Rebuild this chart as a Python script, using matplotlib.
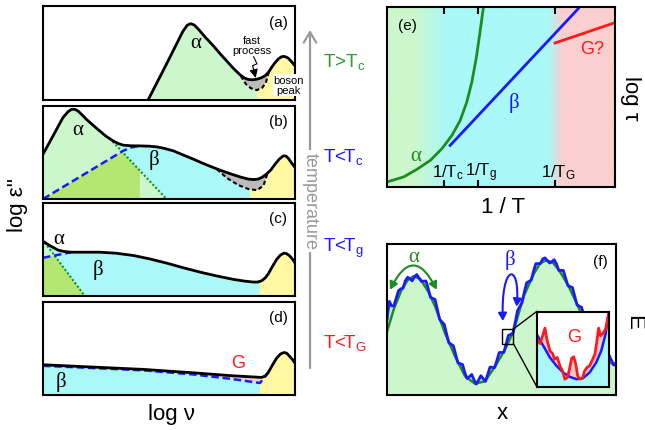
import numpy as np
import matplotlib
matplotlib.use("Agg")
import matplotlib.pyplot as plt
from matplotlib.patches import Polygon, Rectangle, FancyArrowPatch
from matplotlib.path import Path
from matplotlib.colors import to_rgb

plt.rcParams['font.family'] = ['Liberation Sans', 'DejaVu Sans']
plt.rcParams['mathtext.fontset'] = 'custom'
plt.rcParams['mathtext.rm'] = 'Liberation Sans'
plt.rcParams['mathtext.it'] = 'Liberation Sans:italic'

W, H = 645, 431

# ---------------- data (panel units 0..100) ----------------
# (a) T > Tc
a_x = [41.7, 49.0, 55.5, 57.2, 58.6, 60.0, 61.6, 64.5, 67.5, 70.2, 72.8, 75.5, 78.1, 80.0, 81.5,
       83.2, 84.8, 86.5, 88.1, 89.5, 90.7, 92.0, 93.4, 94.5, 95.4, 96.4, 97.4, 98.7, 100]
a_y = [0, 38.2, 73.0, 79.5, 81.2, 79.8, 75.5, 66.5, 57.9, 49.5, 41.8, 33.8, 27.0, 23.3, 21.8,
       21.5, 22.1, 23.5, 25.7, 29.5, 34.6, 39.5, 43.6, 45.8, 46.4, 45.8, 44.3, 40.5, 36.4]
a_fast_x = [78.5, 80.5, 82.5, 84.8, 87.0, 88.5, 89.5]
a_fast_y = [25.5, 17.0, 12.5, 10.5, 13.0, 19.0, 29.0]

# (b) T < Tc
b_x = [0, 4.0, 7.9, 10.0, 11.3, 12.7, 13.9, 15.5, 17.2, 20.0, 22.5, 25.0, 27.8, 30.0, 31.8, 35.0,
       38.4, 42.0, 45.0, 48.0, 51.7, 55.5, 59.6, 63.5, 67.5, 71.5, 75.5, 78.5, 81.5, 83.5, 85.4,
       87.0, 88.7, 90.5, 92.1, 93.8, 95.4, 96.4, 97.4, 98.7, 100]
b_y = [48.2, 67.9, 87.5, 94.0, 96.4, 96.4, 94.6, 90.5, 85.7, 79.0, 73.2, 67.5, 62.5, 59.5, 57.9, 57.2,
       57.1, 56.8, 56.1, 54.5, 51.8, 47.5, 42.9, 38.3, 33.9, 29.8, 26.1, 23.5, 21.4, 20.9, 21.4,
       23.5, 26.8, 31.5, 37.5, 43.0, 46.4, 46.2, 43.6, 38.5, 33.9]
b_beta_x = [0, 31.8, 35.0, 38.4]
b_beta_y = [0, 51.8, 55.5, 57.1]
b_alpha_x = [26.5, 49.0]
b_alpha_y = [65.0, 0]
b_fast_x = [69.0, 73.0, 77.5, 81.5, 85.0, 87.5, 89.2]
b_fast_y = [32.0, 22.5, 15.0, 10.7, 9.5, 14.5, 28.5]

# (c) T < Tg
c_x = [0, 2.6, 6.0, 8.5, 11.3, 16.0, 22.5, 29.0, 35.8, 42.5, 49.0, 55.5, 62.3, 69.0, 75.5, 80.0,
       83.4, 85.2, 86.8, 88.2, 89.4, 91.0, 92.7, 94.2, 95.6, 96.7, 97.7, 98.9, 100]
c_y = [58.9, 54.3, 49.3, 47.8, 47.1, 47.1, 47.1, 46.0, 43.6, 39.8, 35.4, 30.5, 25.7, 21.5, 17.9, 16.0,
       15.0, 15.0, 16.4, 19.5, 23.9, 31.5, 39.3, 44.0, 46.1, 45.5, 43.6, 40.0, 35.7]
c_beta_x = [0, 11.3]
c_beta_y = [41.1, 47.1]
c_alpha_x = [0.7, 16.6]
c_alpha_y = [57.5, 0]

# (d) T < TG
d_x = [0, 20, 40, 60, 75, 86.8, 88.2, 89.4, 91.0, 92.7, 94.2, 95.6, 96.7, 97.7, 98.9, 100]
d_y = [32.5, 30.0, 27.5, 23.8, 20.7, 18.9, 20.5, 24.3, 32.0, 39.6, 44.0, 45.7, 45.0, 42.1, 38.5, 34.3]
d_beta_x = [0, 40, 60, 75, 86.1, 89.2]
d_beta_y = [31.4, 26.5, 22.0, 17.2, 12.9, 23.5]

boson_start = [85, 82, 86, 86]
panel_tags = ['(a)', '(b)', '(c)', '(d)']
temp_labels = [r'T>T$_\mathrm{c}$', r'T<T$_\mathrm{c}$', r'T<T$_\mathrm{g}$', r'T<T$_\mathrm{G}$']

# (e) relaxation map
tick_pos = [25.1, 39.8, 73.7]
tick_subs = ['c', 'g', 'G']
e_alpha_x = [0, 7.3, 13.1, 19.0, 24.1, 28.5, 32.1, 35.0, 37.2, 39.1, 40.6, 41.8, 42.3]
e_alpha_y = [2.8, 5.6, 9.8, 14.8, 21.3, 28.7, 37.0, 47.2, 58.3, 71.3, 84.3, 95.4, 100]
e_beta_x = [27.7, 83.9]
e_beta_y = [23.1, 99.1]
e_g_x = [73.7, 100]
e_g_y = [80.0, 91.3]

# (f) energy landscape
f_x = [0, 3, 6.4, 9, 11.5, 14.5, 18, 21, 25.3, 29.7, 34.1, 38.4, 42.8, 47.2, 51.5, 55.2, 59.6,
       64, 67, 69.7, 72.5, 75, 79.2, 83.6, 88, 92.3, 96.7, 100]
f_green = [42, 57, 69.8, 76, 78.6, 77, 68.5, 58.7, 41.1, 25.6, 12.4, 7.5, 9.1, 19, 30, 42, 65,
           80, 87.5, 89.2, 87.5, 83, 72.4, 58.1, 43.7, 30.5, 22, 19.5]
f_blue_x = list(range(0, 101))
f_blue = [50, 62, 59, 59, 64, 69, 70.3, 70.7, 75.6, 78,
          77, 75.6, 78.3, 79.8, 77.3, 75.3, 75.4, 75.5, 70.5, 64.7,
          64, 63.2, 56.6, 50, 48.4, 46.8, 40.6, 34.6, 33.6, 32.6,
          26.7, 21.2, 20.7, 20.2, 14.7, 10.9, 12.2, 13.6, 9.9, 7.2,
          9.9, 12.8, 10.8, 9.0, 13.8, 18.5, 18.3, 18.1, 23, 28.1,
          28.2, 28.2, 33.6, 39.4, 40.1, 40.9, 48.2, 55.9, 58.6, 61.4,
          68.4, 74.3, 75.2, 76.1, 82, 87, 87, 87, 90.1, 90.8,
          89, 87.4, 88.3, 89.6, 86.8, 82.5, 82.5, 82.5, 77.4, 72.4,
          71.8, 71.1, 65.3, 59.6, 58.8, 58, 52.2, 46.5, 45.7, 45.1,
          39.6, 34, 33.4, 33.6, 29.2, 24.8, 25.4, 26.3, 23, 19.8, 21.5]
inset_blue_x = [0, 9.2, 18.4, 27.6, 36.9, 46.1, 55.3, 64.5, 73.7, 82.9, 89.9, 95.9, 100]
inset_blue_y = [69.8, 54.2, 38.7, 27.6, 18.7, 12.9, 9.8, 11.1, 18.7, 32, 47.6, 69.8, 96.4]
inset_red_x = [0, 4.6, 8.3, 11.5, 14.7, 18.4, 22.1, 24.9, 28.6, 32.3, 35.9, 39.2, 42.9, 46.1, 48.8,
               51.6, 54.4, 57.1, 59.9, 63.6, 66.8, 70.0, 73.7, 77.4, 81.1, 83.9, 86.2, 88.9, 92.2,
               95.9, 100]
inset_red_y = [63.1, 57.3, 67.6, 77.8, 60.9, 47.6, 44, 36.4, 38.7, 27.6, 20.9, 9.8, 12, 25.3, 37.8,
               39.6, 29.8, 14.2, 9.8, 11.1, 20.9, 25.3, 27.6, 35.1, 43.1, 60.9, 77.8, 67.6, 70.7,
               76.4, 96.4]

# ---------------- colours ----------------
LGREEN = '#ccf7cc'
CYAN = '#aaf8f8'
YELLOW = '#fff9a3'
OVERLAP = '#b4e672'
GRAY = '#bcbcbc'
PINK = '#f8c9c9'
DGREEN = '#1e8c1e'
TGREEN = '#2a9d2a'
BLUE = '#1a1aff'
RED = '#ff1a1a'
GREEK = ['Liberation Serif', 'DejaVu Serif']

fig = plt.figure(figsize=(W / 100, H / 100), dpi=100)


def add_ax(l, t, r, b, **kw):
    return fig.add_axes([l / W, 1 - b / H, (r - l) / W, (b - t) / H], **kw)


def frame(ax):
    ax.set_xlim(0, 100)
    ax.set_ylim(0, 100)
    ax.set_xticks([])
    ax.set_yticks([])
    for s in ax.spines.values():
        s.set_linewidth(1.5)
        s.set_zorder(8)


def under(ax, x, y, color, z):
    pts = list(zip(x, y)) + [(x[-1], 0), (x[0], 0)]
    p = Polygon(pts, closed=True, fc=color, ec='none', zorder=z)
    ax.add_patch(p)
    return p


def region(ax, pts, color, clip, z):
    p = Polygon(pts, closed=True, fc=color, ec='none', zorder=z)
    ax.add_patch(p)
    p.set_clip_path(clip)
    return p


def above(x, y):
    return list(zip(x, y)) + [(x[-1], 100), (x[0], 100)]


def band(ax, x0, color, clip, z):
    r = Rectangle((x0, 0), 100 - x0, 100, fc=color, ec='none', zorder=z)
    ax.add_patch(r)
    r.set_clip_path(clip)


# overlay in pixel coordinates for free text and the temperature arrow
ov = add_ax(0, 0, W, H)
ov.set_xlim(0, W)
ov.set_ylim(H, 0)
ov.axis('off')
ov.annotate('', xy=(310, 31), xytext=(310, 369),
            arrowprops=dict(arrowstyle='->,head_length=0.75,head_width=0.45',
                            color='#999999', lw=1.6, shrinkA=0, shrinkB=0))
ov.text(310, 202, 'temperature', rotation=-90, ha='center', va='center', fontsize=13,
        color='#999999', bbox=dict(boxstyle='square,pad=0.15', fc='white', ec='none'))
temp_y = [62, 157, 248, 343]
temp_c = [TGREEN, BLUE, BLUE, RED]
for lab, ty, tc in zip(temp_labels, temp_y, temp_c):
    ov.text(323, ty, lab, ha='left', va='center', fontsize=13.5, color=tc)

fig.text(18 / W, 1 - 205 / H, "log ε''", rotation=90, ha='center', va='center', fontsize=16)
fig.text(171 / W, 1 - 415 / H, 'log ν', ha='center', va='center', fontsize=16)
fig.text(503 / W, 1 - 208 / H, '1 / T', ha='center', va='center', fontsize=16)
fig.text(631 / W, 1 - 98 / H, 'log τ', rotation=-90, ha='center', va='center', fontsize=16)
fig.text(634 / W, 1 - 322 / H, 'E', rotation=-90, ha='center', va='center', fontsize=16)
fig.text(502 / W, 1 - 414 / H, 'x', ha='center', va='center', fontsize=16)

# ---------------- left spectra ----------------
left_boxes = [(7, 101), (107, 200), (204, 297), (303, 396)]
axs = [add_ax(43, t, 295, b) for t, b in left_boxes]
for ax, tag in zip(axs, panel_tags):
    frame(ax)
    ax.text(93.4, 83.5, tag, ha='center', va='center', fontsize=11, zorder=9)

dash_k = (0, (2, 1.3))
dash_b = (0, (3, 1.5))
dot_g = (0, (1, 1))

# (a)
ax = axs[0]
base = under(ax, a_x, a_y, LGREEN, 1)
band(ax, boson_start[0], YELLOW, base, 2)
region(ax, above(a_fast_x, a_fast_y), GRAY, base, 3)
ax.plot(a_fast_x, a_fast_y, color='k', ls=dash_k, lw=1.5, zorder=4)
ax.plot(a_x, a_y, color='k', lw=2, zorder=5)
ax.text(60.7, 60.7, 'α', family=GREEK, fontsize=15, ha='center', va='center', zorder=9)
ax.text(82.9, 58.5, 'fast\nprocess', fontsize=8, ha='center', va='center', linespacing=0.95, zorder=9)
ax.plot([83.6, 84.9, 83.2], [46.0, 38.5, 36.5], color='k', lw=0.8, zorder=9)
ax.annotate('', xy=(84.4, 23.5), xytext=(83.2, 36.5),
            arrowprops=dict(arrowstyle='-|>,head_length=0.5,head_width=0.25', color='k', lw=0.8,
                            shrinkA=0, shrinkB=0), zorder=9)
ax.text(97.6, 16.0, 'boson\npeak', fontsize=8, ha='center', va='center', linespacing=0.95,
        zorder=9, clip_on=False, bbox=dict(boxstyle='square,pad=0.1', fc='white', ec='none'))

# (b)
ax = axs[1]
base = under(ax, b_x, b_y, CYAN, 1)
alpha_pts = [(0, 0)] + [(x, y) for x, y in zip(b_x, b_y) if x < b_alpha_x[0]] + list(zip(b_alpha_x, b_alpha_y))
alpha_patch = region(ax, alpha_pts, LGREEN, base, 2)
region(ax, [(0, 0)] + list(zip(b_beta_x, b_beta_y)) + [(b_beta_x[-1], 0)], OVERLAP, alpha_patch, 3)
band(ax, boson_start[1], YELLOW, base, 4)
region(ax, above(b_fast_x, b_fast_y), GRAY, base, 5)
ax.plot(b_alpha_x, b_alpha_y, color=DGREEN, ls=dot_g, lw=1.5, zorder=6)
ax.plot(b_beta_x, b_beta_y, color=BLUE, ls=dash_b, lw=1.8, zorder=6)
ax.plot(b_fast_x, b_fast_y, color='k', ls=dash_k, lw=1.5, zorder=6)
ax.plot(b_x, b_y, color='k', lw=2, zorder=7)
ax.text(13.9, 75, 'α', family=GREEK, fontsize=15, ha='center', va='center', zorder=9)
ax.text(44, 43, 'β', family=GREEK, fontsize=15, ha='center', va='center', zorder=9)

# (c)
ax = axs[2]
base = under(ax, c_x, c_y, CYAN, 1)
alpha_patch = region(ax, [(0, 0), (c_x[0], c_y[0])] + list(zip(c_alpha_x, c_alpha_y)), LGREEN, base, 2)
region(ax, [(0, 0)] + list(zip(c_beta_x, c_beta_y)) + [(30, 0)], OVERLAP, alpha_patch, 3)
band(ax, boson_start[2], YELLOW, base, 4)
ax.plot(c_alpha_x, c_alpha_y, color=DGREEN, ls=dot_g, lw=1.5, zorder=6)
ax.plot(c_beta_x, c_beta_y, color=BLUE, ls=dash_b, lw=1.8, zorder=6)
ax.plot(c_x, c_y, color='k', lw=2, zorder=7)
ax.text(6.4, 61.5, 'α', family=GREEK, fontsize=15, ha='center', va='center', zorder=9)
ax.text(21.9, 29.5, 'β', family=GREEK, fontsize=15, ha='center', va='center', zorder=9)

# (d)
ax = axs[3]
base = under(ax, d_x, d_y, PINK, 1)
region(ax, [(0, 0)] + list(zip(d_beta_x, d_beta_y)) + [(d_beta_x[-1], 0)], CYAN, base, 2)
band(ax, boson_start[3], YELLOW, base, 3)
ax.plot(d_beta_x, d_beta_y, color=BLUE, ls=dash_b, lw=1.8, zorder=6)
ax.plot(d_x, d_y, color='k', lw=2, zorder=7)
ax.text(7.3, 15.5, 'β', family=GREEK, fontsize=15, ha='center', va='center', zorder=9)
ax.text(77.5, 34.5, 'G', color=RED, fontsize=13, ha='center', va='center', zorder=9)

# ---------------- (e) ----------------
ax_e = add_ax(387, 8, 615, 188)
grad_x = [0, 12, 26, 71, 77, 100]
grad_c = [LGREEN, LGREEN, CYAN, CYAN, '#fbcfcf', '#fbcfcf']
gx = np.linspace(0, 100, 500)
rgb = np.array([to_rgb(c) for c in grad_c])
img = np.stack([np.interp(gx, grad_x, rgb[:, k]) for k in range(3)], axis=-1)[None, :, :]
ax_e.imshow(img, extent=[0, 100, 0, 100], aspect='auto', zorder=0)
frame(ax_e)
ax_e.plot(e_alpha_x, e_alpha_y, color=DGREEN, lw=2, zorder=3)
ax_e.plot(e_beta_x, e_beta_y, color=BLUE, lw=2, zorder=3)
ax_e.plot(e_g_x, e_g_y, color=RED, lw=2, zorder=3)
ax_e.set_xticks(tick_pos)
ax_e.set_xticklabels([])
ax_e.tick_params(axis='x', direction='in', top=True, bottom=True, length=5, width=1.5)
for p, s in zip(tick_pos, tick_subs):
    ax_e.text(p + 1.5, 8.5, r'1/T$_\mathrm{%s}$' % s, ha='center', va='center', fontsize=12, zorder=4)
ax_e.text(8.8, 89.8, '(e)', ha='center', va='center', fontsize=11, zorder=4)
ax_e.text(12.8, 17.6, 'α', family=GREEK, color=DGREEN, fontsize=15, ha='center', va='center', zorder=4)
ax_e.text(55.8, 47.2, 'β', family=GREEK, color=BLUE, fontsize=15, ha='center', va='center', zorder=4)
ax_e.text(89.8, 77.0, 'G?', color=RED, fontsize=13, ha='center', va='center', zorder=4)

# ---------------- (f) ----------------
f_box = (387, 245, 616, 396)
ax_f = add_ax(*f_box)
frame(ax_f)
ax_f.set_facecolor('white')
under(ax_f, f_blue_x, f_blue, CYAN, 1)
under(ax_f, f_x, f_green, LGREEN, 2)
ax_f.plot(f_x, f_green, color=DGREEN, lw=1.8, zorder=3)
ax_f.plot(f_blue_x, f_blue, color=BLUE, lw=2, zorder=4)
ax_f.text(11.5, 91.5, 'α', family=GREEK, color=DGREEN, fontsize=15, ha='center', va='center', zorder=6)
ax_f.text(53.7, 90.0, 'β', family=GREEK, color=BLUE, fontsize=15, ha='center', va='center', zorder=6)
ax_f.text(93.0, 88.5, '(f)', ha='center', va='center', fontsize=11, zorder=6)
ax_f.add_patch(FancyArrowPatch((1.3, 69.7), (21.7, 69.7), connectionstyle='arc3,rad=-1.0',
                               arrowstyle='<|-|>,head_length=4.5,head_width=2.5',
                               color=DGREEN, lw=1.5, shrinkA=0, shrinkB=0, zorder=6))
# beta hop: tall narrow loop
beta_loop = Path([(50.6, 49.0), (49.6, 88.0), (58.4, 88.0), (56.6, 58.5)],
                 [Path.MOVETO, Path.CURVE4, Path.CURVE4, Path.CURVE4])
ax_f.add_patch(FancyArrowPatch(path=beta_loop, arrowstyle='<|-|>,head_length=4.5,head_width=2.5',
                               color=BLUE, lw=1.5, zorder=6))

in_box = (536.7, 312.5, 608.5, 387.5)


def to_f(px, py):
    return ((px - f_box[0]) / (f_box[2] - f_box[0]) * 100,
            (f_box[3] - py) / (f_box[3] - f_box[1]) * 100)


zoom_l, zoom_r, zoom_b, zoom_t = 50.3, 55.2, 34.0, 43.7
ax_f.add_patch(Rectangle((zoom_l, zoom_b), zoom_r - zoom_l, zoom_t - zoom_b, fc='none', ec='k',
                         lw=1.0, zorder=6))
tl = to_f(in_box[0], in_box[1])
bl = to_f(in_box[0], in_box[3])
ax_f.plot([zoom_r, tl[0]], [zoom_t, tl[1]], color='k', lw=1.0, zorder=6)
ax_f.plot([zoom_r, bl[0]], [zoom_b, bl[1]], color='k', lw=1.0, zorder=6)

ax_i = add_ax(*in_box)
frame(ax_i)
ax_i.set_facecolor('white')
under(ax_i, inset_red_x, inset_red_y, PINK, 1)
under(ax_i, inset_blue_x, inset_blue_y, CYAN, 2)
ax_i.plot(inset_blue_x, inset_blue_y, color=BLUE, lw=1.8, zorder=3)
ax_i.plot(inset_red_x, inset_red_y, color=RED, lw=2, zorder=4)
ax_i.text(51.6, 67, 'G', color=RED, fontsize=13, ha='center', va='center', zorder=5)

fig.savefig('out.png', dpi=100)
